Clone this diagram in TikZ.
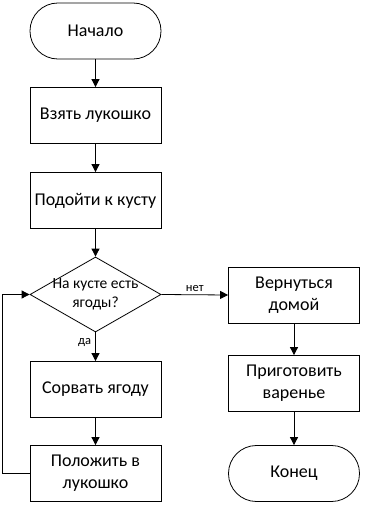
\documentclass[tikz,border=0pt]{standalone}
\usepackage{fontspec}
\setmainfont{Carlito}
\usetikzlibrary{shapes.geometric,arrows.meta}
\tikzset{
	block/.style = {draw, line width=.8pt, minimum width=131pt, minimum height=56pt, inner sep=2pt, align=center, font=\fontsize{18}{22}\selectfont},
	term/.style = {block, rounded corners=27.9pt},
	decision/.style = {draw, line width=.8pt, diamond, minimum width=131pt, minimum height=75pt, inner sep=0pt},
	flow/.style = {line width=.8pt, -{Triangle[length=8pt,width=8pt]}},
	lbl/.style = {font=\fontsize{12.5}{14}\selectfont, inner sep=1pt}
}
\begin{document}
\begin{tikzpicture}[x=1pt, y=-1pt]
		\useasboundingbox (0,0) rectangle (365,510);
		
		% left column
		\node[term] (start) at (95.5,31) {Начало};
		\node[block] (take) at (95.5,115.5) {Взять лукошко};
		\node[block] (go) at (95.5,200.5) {Подойти к кусту};
		\node[decision, label={[align=center, font=\fontsize{15.5}{18.5}\selectfont]center:На кусте есть\\ягоды?}] (berries) at (95.5,294.5) {};
		\node[block] (pick) at (95.5,389.5) {Сорвать ягоду};
		\node[block] (put) at (95.5,473.5) {Положить в\\лукошко};
		
		% right column
		\node[block] (home) at (294,295) {Вернуться\\домой};
		\node[block] (cook) at (294,383.5) {Приготовить\\варенье};
		\node[term] (stop) at (294,473.5) {Конец};
		
		\draw[flow] (start) -- (take);
		\draw[flow] (take) -- (go);
		\draw[flow] (go) -- (berries);
		\draw[flow] (berries.south) -- node[lbl, pos=.35, anchor=east, xshift=-3pt] {да} (pick.north);
		\draw[flow] (pick) -- (put);
		\draw[flow] (put.west) -- ++(-27,0) |- (berries.west);
		\draw[flow] (berries.east) -- node[lbl, above, yshift=2pt] {нет} (home.west);
		\draw[flow] (home) -- (cook);
		\draw[flow] (cook) -- (stop);
\end{tikzpicture}
\end{document}
